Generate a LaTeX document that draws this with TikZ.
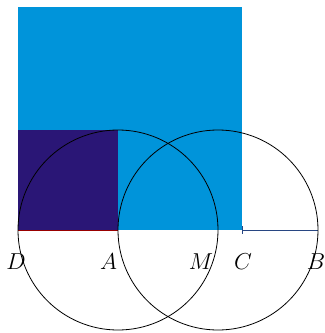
\documentclass[tikz,border=0pt]{standalone}
\begin{document}
\begin{tikzpicture}[x=0.75pt,y=-0.75pt,
  lbl/.style={font=\fontsize{18.5}{20}\selectfont, inner sep=0pt},
  circ/.style={draw=black, line width=0.6pt}]
\definecolor{bigblue}{RGB}{0,148,218}
\definecolor{darksq}{RGB}{42,22,118}
\definecolor{seg}{RGB}{40,70,130}
\useasboundingbox (0,0) rectangle (325,333);
\coordinate (D) at (18,230);
\coordinate (A) at (118,230);
\coordinate (M) at (218,230);
\coordinate (C) at (242,230);
\coordinate (B) at (318,230);
\fill[bigblue] (18,7) rectangle (C);
\fill[darksq] (18,130) rectangle (A);
\draw[red!60!black, line width=0.6pt] (D) -- (A);
\draw[seg, line width=0.6pt] (C) -- (B);
\draw[seg, line width=0.6pt] (242,226) -- (242,234);
\draw[circ] (A) circle[radius=100];
\draw[circ] (M) circle[radius=100];
\node[lbl] (lD) at (16,262) {$D$};
\node[lbl] (lA) at (108.5,262) {$A$};
\node[lbl] (lM) at (201,262) {$M$};
\node[lbl] (lC) at (243,262) {$C$};
\node[lbl] (lB) at (316,262) {$B$};
\end{tikzpicture}
\end{document}
